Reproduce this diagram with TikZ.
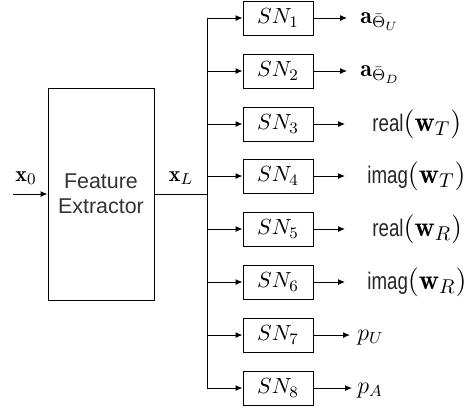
\documentclass[tikz,border=0pt]{standalone}
\usepackage{amsmath}
\usepackage{fontspec}
\setsansfont{Liberation Sans}
\newfontfamily\narrowsans[FakeStretch=0.78]{Liberation Sans}
\usetikzlibrary{positioning,arrows.meta}
\tikzset{
  flowarrow/.style={-{Latex[length=3.5pt,width=3pt]}, line width=0.5pt},
  extractor/.style={draw, line width=0.5pt, minimum width=53pt, minimum height=106pt, align=center, font=\sffamily\fontsize{10.7}{12.5}\selectfont, text=black!80},
  subnet/.style={draw, line width=0.5pt, minimum width=35pt, minimum height=17pt, inner sep=0pt, font=\fontsize{11}{13}\selectfont},
  outlabel/.style={anchor=base west, inner sep=0pt, font=\fontsize{12}{14}\selectfont},
  fnlabel/.style={outlabel, font=\fontsize{14}{16}\selectfont},
  varlabel/.style={inner sep=0pt, font=\fontsize{11}{13}\selectfont}
}
\newcommand{\fnname}[1]{{\narrowsans\fontsize{12}{14}\selectfont\color{black!85}#1}}

\begin{document}
\begin{tikzpicture}[x=0.5pt, y=-0.5pt]
  \useasboundingbox (0,0) rectangle (469,414);
  % feature extractor and its input / output
  \node[extractor] (fe) at (101,194) {Feature\\Extractor};
  \coordinate (in) at (13,194);
  \coordinate (bus) at (207,194);
  \node[varlabel] (x0) at (26,178) {$\mathbf{x}_0$};
  \node[varlabel] (xL) at (181,178) {$\mathbf{x}_L$};
  \draw[flowarrow] (in) -- (fe);
  \draw[line width=0.5pt] (fe.east) -- (bus);

  % sub-networks
  \node[subnet] (sn1) at (278,18) {$SN_1$};
  \node[subnet] (sn2) at (278,71) {$SN_2$};
  \node[subnet] (sn3) at (278,124) {$SN_3$};
  \node[subnet] (sn4) at (278,176) {$SN_4$};
  \node[subnet] (sn5) at (278,229) {$SN_5$};
  \node[subnet] (sn6) at (278,282) {$SN_6$};
  \node[subnet] (sn7) at (278,335) {$SN_7$};
  \node[subnet] (sn8) at (278,388) {$SN_8$};

  % bus to the sub-networks
  \draw[line width=0.5pt] (bus |- sn1) -- (bus |- sn8);
  \draw[flowarrow] (bus |- sn1) -- (sn1);
  \draw[flowarrow] (bus |- sn2) -- (sn2);
  \draw[flowarrow] (bus |- sn3) -- (sn3);
  \draw[flowarrow] (bus |- sn4) -- (sn4);
  \draw[flowarrow] (bus |- sn5) -- (sn5);
  \draw[flowarrow] (bus |- sn6) -- (sn6);
  \draw[flowarrow] (bus |- sn7) -- (sn7);
  \draw[flowarrow] (bus |- sn8) -- (sn8);

  % outputs
  \node[outlabel] (o1) at (360,23) {$\mathbf{a}_{\bar{\Theta}_U}$};
  \node[outlabel] (o2) at (360,76) {$\mathbf{a}_{\bar{\Theta}_D}$};
  \node[fnlabel] (o3) at (372,131) {\fnname{real}$(\mathbf{w}_T)$};
  \node[fnlabel] (o4) at (367,183) {\fnname{imag}$(\mathbf{w}_T)$};
  \node[fnlabel] (o5) at (372,236) {\fnname{real}$(\mathbf{w}_R)$};
  \node[fnlabel] (o6) at (367,289) {\fnname{imag}$(\mathbf{w}_R)$};
  \node[outlabel] (o7) at (357,340) {$p_U$};
  \node[outlabel] (o8) at (357,393) {$p_A$};
  \draw[flowarrow, shorten >=6.5pt] (sn1.east) -- (sn1.east -| o1.west);
  \draw[flowarrow, shorten >=6.5pt] (sn2.east) -- (sn2.east -| o2.west);
  \draw[flowarrow, shorten >=13.5pt] (sn3.east) -- (sn3.east -| o3.west);
  \draw[flowarrow, shorten >=11pt] (sn4.east) -- (sn4.east -| o4.west);
  \draw[flowarrow, shorten >=13.5pt] (sn5.east) -- (sn5.east -| o5.west);
  \draw[flowarrow, shorten >=11pt] (sn6.east) -- (sn6.east -| o6.west);
  \draw[flowarrow, shorten >=3.5pt] (sn7.east) -- (sn7.east -| o7.west);
  \draw[flowarrow, shorten >=2.5pt] (sn8.east) -- (sn8.east -| o8.west);
\end{tikzpicture}
\end{document}
